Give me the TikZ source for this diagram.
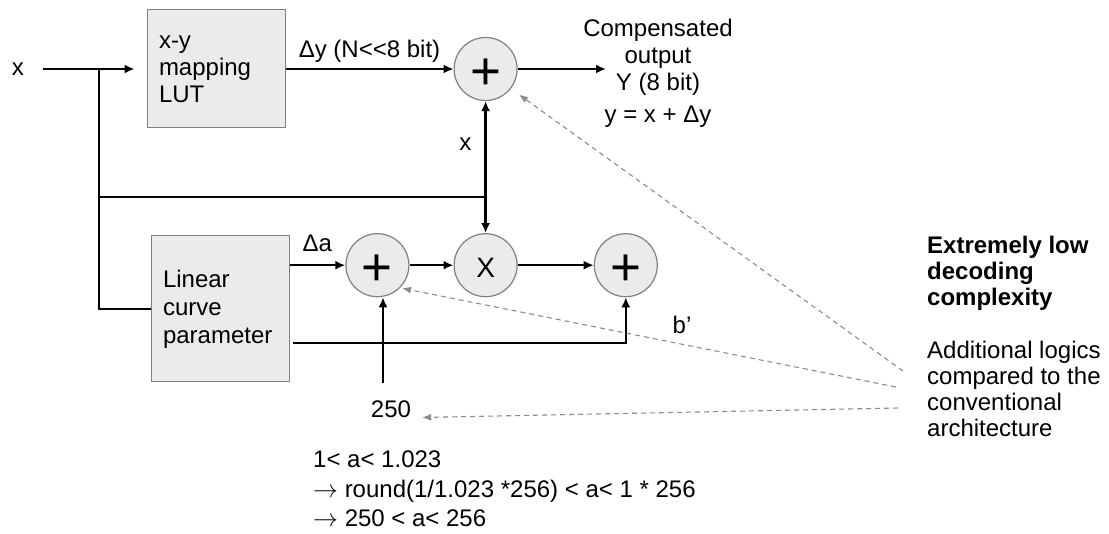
\documentclass[tikz,border=0pt]{standalone}
\usepackage{fontspec}
\setmainfont{Liberation Sans}
\usetikzlibrary{arrows.meta,positioning}

\begin{document}
\begin{tikzpicture}[
    x=1pt, y=-1pt,
    font=\fontsize{24}{27}\selectfont,
    box/.style={draw=black!50, fill=black!8, line width=1pt, align=left,
                inner xsep=12pt, inner ysep=0pt, text width=114pt},
    sumop/.style={circle, draw=black!50, fill=black!8, line width=1.2pt,
                  minimum size=63pt, inner sep=0pt,
                  font=\fontsize{53}{53}\selectfont, text height=41pt, text depth=0pt},
    mulop/.style={sumop, font=\fontsize{28}{28}\selectfont, text height=25pt},
    lbl/.style={inner sep=0pt},
    wire/.style={line width=2.4pt},
    flow/.style={wire, -{Latex[length=10pt,width=9pt]}},
    hint/.style={-{Latex[length=9pt,width=7pt]}, draw=black!45, line width=1.1pt,
                 dash pattern=on 5pt off 4pt}]
  \useasboundingbox (0,0) rectangle (1109,534);
  \node[lbl] (xin) at (18,69) {x};
  \node[box, minimum height=118pt] (lut) at (216,69) {x-y\\mapping\\LUT};
  \node[sumop, right=168pt of lut] (add1) {+};
  \node[mulop, below=132pt of add1] (mul) {X};
  \node[sumop, left=44pt of mul] (add2) {+};
  \node[sumop, right=76pt of mul] (add3) {+};
  \node[box, minimum height=146pt, font=\fontsize{24}{28}\selectfont] (lin) at (220,309)
       {Linear\\curve\\parameter};
  \node[lbl, anchor=north, align=center] (yout) at (658,19)
       {Compensated\\output\\Y (8 bit)\\[5pt]y = x + Δy};
  \node[lbl] (blab) at (682,325) {b’};
  \node[lbl] (n250) at (391,409) {250};
  \node[lbl, anchor=north west, align=left, font=\fontsize{24}{29.5}\selectfont] (cond) at (313,451)
       {1< a< 1.023\\$\rightarrow$ round(1/1.023 *256) < a< 1 * 256\\$\rightarrow$ 250 < a< 256};
  \node[lbl, anchor=north west, align=left, font=\bfseries\fontsize{24}{26}\selectfont] (xlow) at (927,236)
       {Extremely low\\decoding\\complexity};
  \node[lbl, anchor=north west, align=left, font=\fontsize{24}{26}\selectfont] (addl) at (927,341)
       {Additional logics\\compared to the\\conventional\\architecture};

  \coordinate (br) at (99,69);
  \coordinate (yend) at (606,69);
  \coordinate (bst) at (293,343);
  \coordinate (c250) at (383,383);
  \path (add1.center) ++(0,128) coordinate (jx);
  \draw[flow, shorten <=19pt, shorten >=12pt] (xin.east) -- (xin.east -| lut.west);
  \draw[wire] (br) |- (lin.west);
  \draw[flow] (lut) -- node[lbl, above=5pt] {Δy (N<{}<8 bit)} (add1);
  \draw[flow] (add1) -- (yend);
  \draw[wire] (br |- jx) -- (jx);
  \draw[flow] (jx) -- node[lbl, pos=0.55, left=13pt] {x} (add1);
  \draw[flow] (jx) -- (mul);
  \draw[flow] (lin.east |- add2) -- node[lbl, above=12pt] {Δa} (add2);
  \draw[flow] (add2) -- (mul);
  \draw[flow] (mul) -- (add3);
  \draw[flow] (bst) -| (add3);
  \draw[flow] (c250) -- (c250 |- add2.south);

  \coordinate (h1) at (903,371);
  \coordinate (h2) at (896,387);
  \coordinate (h3) at (898,408);
  \draw[hint, shorten >=10pt] (h1) -- (add1.-38);
  \draw[hint, shorten >=2pt] (h2) -- (add2.-45);
  \draw[hint, shorten >=11pt] (h3) -- (n250.south east);
\end{tikzpicture}
\end{document}
